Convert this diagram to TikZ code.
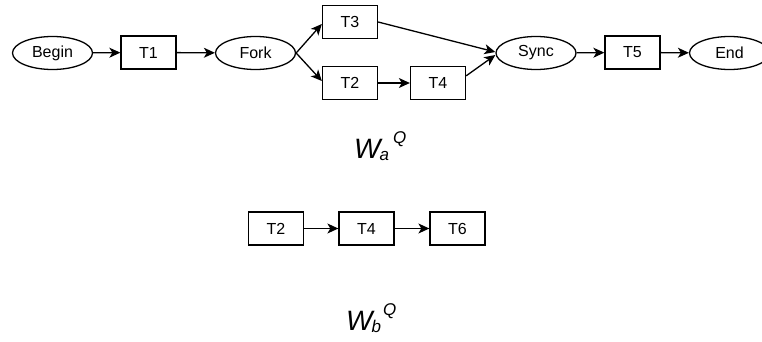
\documentclass[tikz,border=0pt]{standalone}
\usepackage{fontspec}
\setmainfont{Liberation Sans}
\usetikzlibrary{arrows.meta,shapes.geometric}
\begin{document}
\begin{tikzpicture}[x=1pt,y=-1pt,
  task/.style={draw,line width=1.3pt,minimum width=55pt,minimum height=33pt,inner sep=0pt,font=\fontsize{16}{18}\selectfont},
  ctrl/.style={draw,ellipse,line width=1.3pt,minimum width=80pt,minimum height=33pt,inner sep=0pt,font=\fontsize{16}{18}\selectfont},
  flow/.style={line width=1.3pt,-{Stealth[length=11pt,width=10pt,inset=3pt]}},
  wlabel/.style={anchor=base west,inner sep=0pt,font=\fontsize{28}{32}\selectfont\itshape}]
\useasboundingbox (0,0) rectangle (762,342);
% top workflow
\node[ctrl] (begin) at (52.5,53) {Begin};
\node[task] (t1) at (148.5,52.5) {T1};
\node[ctrl] (fork) at (255.5,53) {Fork};
\node[task] (t3) at (350,22) {T3};
\node[task] (t2) at (350,83) {T2};
\node[task] (t4) at (438,83) {T4};
\node[ctrl] (sync) at (536,53) {Sync};
\node[task] (t5) at (632.5,52.5) {T5};
\node[ctrl] (end) at (729.5,53) {End};
\draw[flow] (begin) -- (t1);
\draw[flow] (t1) -- (fork);
\draw[flow] (fork.east) -- ([yshift=-2pt]t3.west);
\draw[flow] (fork.east) -- ([yshift=2pt]t2.west);
\draw[flow] (t3.east) -- ([yshift=1pt]sync.west);
\draw[flow] (t2) -- (t4);
\draw[flow] ([yshift=-10pt]t4.north east) -- ([yshift=-2pt]sync.west);
\draw[flow] (sync) -- (t5);
\draw[flow] (t5) -- (end);
\node[wlabel] (wa) at (354,158) {W\kern-1pt\raisebox{-2pt}{\fontsize{17}{19}\selectfont a}\kern4pt\raisebox{15pt}{\fontsize{17}{19}\selectfont Q}};
% bottom workflow
\node[task] (b2) at (276,228.5) {T2};
\node[task] (b4) at (366.5,228.5) {T4};
\node[task] (b6) at (457.5,228.5) {T6};
\draw[flow] (b2) -- (b4);
\draw[flow] (b4) -- (b6);
\node[wlabel] (wb) at (346,330) {W\kern-1pt\raisebox{-2pt}{\fontsize{17}{19}\selectfont b}\kern2pt\raisebox{15pt}{\fontsize{17}{19}\selectfont Q}};
\end{tikzpicture}
\end{document}
